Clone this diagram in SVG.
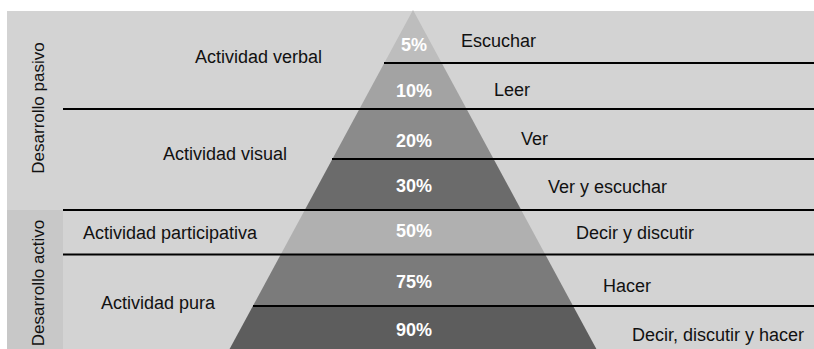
<svg xmlns="http://www.w3.org/2000/svg" width="814" height="349" viewBox="0 0 814 349">
<style>
.lbl{font-family:"Liberation Sans",Arial,sans-serif;font-size:18px;fill:#111}
.side{font-family:"Liberation Sans",Arial,sans-serif;font-size:17px;fill:#111;text-anchor:middle}
.pct{font-family:"Liberation Sans",Arial,sans-serif;font-size:18px;font-weight:bold;fill:#fff;text-anchor:middle}
.ln{stroke:#000;stroke-width:2;fill:none}
</style>
<rect x="0" y="0" width="814" height="349" fill="#fff"/>
<rect x="7" y="11" width="807" height="338" fill="#d3d3d3"/>
<g id="side-pasivo">
<text class="side" transform="translate(44,108) rotate(-90)">Desarrollo pasivo</text>
</g>
<g id="side-activo">
<rect x="7" y="210" width="56" height="139" fill="#c8c8c8"/>
<text class="side" transform="translate(44,283) rotate(-90)">Desarrollo activo</text>
</g>
<g id="tier-5">
<polygon points="413,10 384.3,63 441.7,63" fill="#bdbdbd"/>
<text class="pct" x="414" y="51">5%</text>
<text class="lbl" x="461" y="47">Escuchar</text>
</g>
<g id="tier-10">
<polygon points="384.3,63 441.7,63 466.6,109 359.4,109" fill="#a3a3a3"/>
<text class="pct" x="414" y="97">10%</text>
<text class="lbl" x="494" y="96">Leer</text>
</g>
<g id="tier-20">
<polygon points="359.4,109 466.6,109 493.6,159 332.4,159" fill="#8b8b8b"/>
<text class="pct" x="414" y="147">20%</text>
<text class="lbl" x="521" y="145">Ver</text>
</g>
<g id="tier-30">
<polygon points="332.4,159 493.6,159 521.2,210 304.8,210" fill="#6b6b6b"/>
<text class="pct" x="414" y="192">30%</text>
<text class="lbl" x="548" y="193">Ver y escuchar</text>
</g>
<g id="tier-50">
<polygon points="304.8,210 521.2,210 545,254 281,254" fill="#b0b0b0"/>
<text class="pct" x="414" y="237">50%</text>
<text class="lbl" x="576" y="239">Decir y discutir</text>
</g>
<g id="tier-75">
<polygon points="281,254 545,254 573.1,306 252.9,306" fill="#7b7b7b"/>
<text class="pct" x="414" y="288">75%</text>
<text class="lbl" x="603" y="292">Hacer</text>
</g>
<g id="tier-90">
<polygon points="252.9,306 573.1,306 596.4,349 229.6,349" fill="#5d5d5d"/>
<text class="pct" x="414" y="336">90%</text>
<text class="lbl" x="632" y="341">Decir, discutir y hacer</text>
</g>
<g id="act-verbal"><text class="lbl" x="195" y="63">Actividad verbal</text></g>
<g id="act-visual"><text class="lbl" x="163" y="160">Actividad visual</text></g>
<g id="act-participativa"><text class="lbl" x="83" y="239">Actividad participativa</text></g>
<g id="act-pura"><text class="lbl" x="101" y="309">Actividad pura</text></g>
<g id="connectors">
<line class="ln" x1="384" y1="63" x2="814" y2="63"/>
<line class="ln" x1="63" y1="109" x2="814" y2="109"/>
<line class="ln" x1="332" y1="159" x2="814" y2="159"/>
<line class="ln" x1="63" y1="210" x2="814" y2="210"/>
<line class="ln" x1="63" y1="254.5" x2="814" y2="254.5"/>
<line class="ln" x1="253" y1="306" x2="814" y2="306"/>
</g>
</svg>
